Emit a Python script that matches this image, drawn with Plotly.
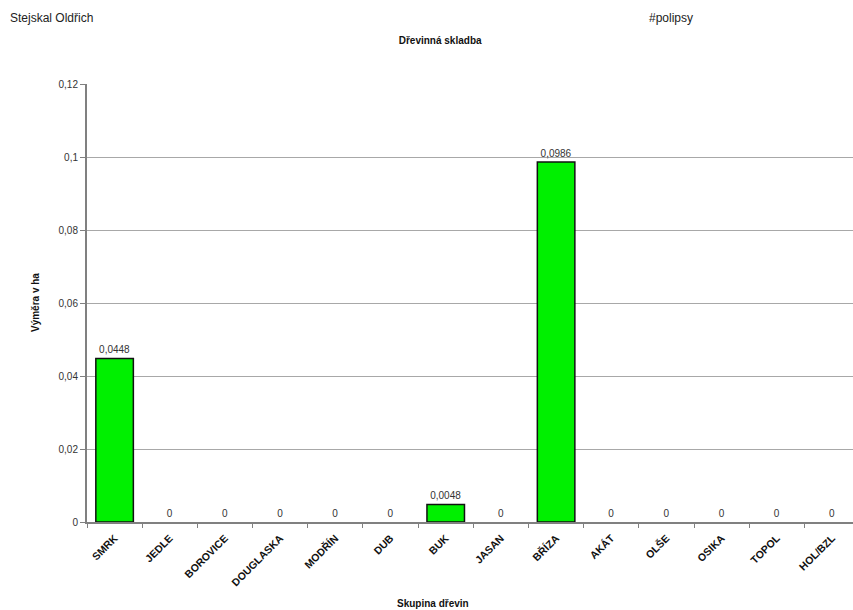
import plotly.graph_objects as go

categories = ["SMRK", "JEDLE", "BOROVICE", "DOUGLASKA", "MODŘÍN", "DUB", "BUK",
              "JASAN", "BŘÍZA", "AKÁT", "OLŠE", "OSIKA", "TOPOL", "HOL/BZL"]
values = [0.0448, 0, 0, 0, 0, 0, 0.0048, 0, 0.0986, 0, 0, 0, 0, 0]
ytick_vals = [0, 0.02, 0.04, 0.06, 0.08, 0.1, 0.12]
ytick_text = ["0", "0,02", "0,04", "0,06", "0,08", "0,1", "0,12"]

labels = [("%g" % v).replace(".", ",") for v in values]
line_widths = [1.5 if v > 0 else 0 for v in values]

FONT = "Liberation Sans, Arial, sans-serif"

W, H = 853, 610
L, R, T, B = 87, 0, 84, 88

fig = go.Figure(go.Bar(
    x=categories, y=values,
    marker=dict(color="#00f000", line=dict(color="#111111", width=line_widths)),
    width=0.68,
    text=labels, textposition="outside", cliponaxis=False,
    textfont=dict(family=FONT, size=10, color="#333333"),
))

fig.update_layout(
    width=W, height=H,
    margin=dict(l=L, r=R, t=T, b=B, autoexpand=False),
    paper_bgcolor="white", plot_bgcolor="white",
    showlegend=False,
    font=dict(family=FONT, color="#222222"),
    title=dict(text="<b>Dřevinná skladba</b>", x=0.516, xanchor="center",
               y=1 - 40 / H, yanchor="middle",
               font=dict(family=FONT, size=10, color="#111111")),
    xaxis=dict(
        range=[-0.5, 13.38], tickangle=-45, tickson="boundaries",
        tickvals=categories, ticktext=["<b>" + c + "</b>" for c in categories],
        ticks="outside", ticklen=4, tickcolor="#808080",
        ticklabelstandoff=4,
        showline=True, linecolor="#808080", linewidth=2,
        tickfont=dict(family=FONT, size=10.5, color="#111111"),
        showgrid=False, fixedrange=True, automargin=False,
    ),
    yaxis=dict(
        range=[0, 0.12], tickvals=ytick_vals, ticktext=ytick_text,
        ticks="outside", ticklen=5, tickcolor="#808080",
        showline=True, linecolor="#808080", linewidth=2,
        showgrid=True, gridcolor="#a8a8a8", gridwidth=1,
        zeroline=False, automargin=False,
        tickfont=dict(family=FONT, size=10, color="#333333"),
    ),
)

pw, ph = W - L - R, H - T - B
def px(x): return (x - L) / pw
def py(y): return (H - B - y) / ph

fig.add_annotation(text="Stejskal Oldřich", x=px(8), y=py(18), xref="paper", yref="paper",
                   xanchor="left", yanchor="middle", showarrow=False,
                   font=dict(family=FONT, size=12, color="#222222"))
fig.add_annotation(text="#polipsy", x=px(647), y=py(18), xref="paper", yref="paper",
                   xanchor="left", yanchor="middle", showarrow=False,
                   font=dict(family=FONT, size=12, color="#222222"))
fig.add_annotation(text="<b>Skupina dřevin</b>", x=px(433), y=py(603), xref="paper", yref="paper",
                   xanchor="center", yanchor="middle", showarrow=False,
                   font=dict(family=FONT, size=10, color="#111111"))
fig.add_annotation(text="<b>Výměra v ha</b>", x=px(35), y=py(302), xref="paper", yref="paper",
                   xanchor="center", yanchor="middle", showarrow=False, textangle=-90,
                   font=dict(family=FONT, size=10, color="#111111"))

fig.write_html("out.html")
